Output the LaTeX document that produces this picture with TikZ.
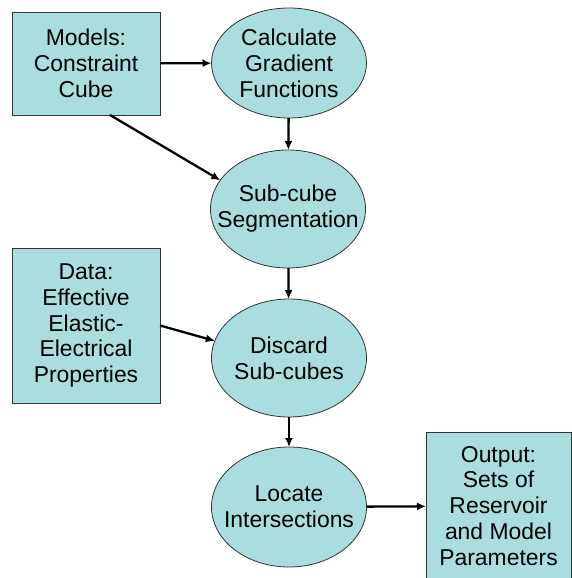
\documentclass[tikz,border=0pt]{standalone}
\usepackage{fontspec}
\setmainfont{Liberation Sans}
\usepackage{tikz}
\usetikzlibrary{positioning,arrows.meta,shapes.geometric}

\definecolor{paleteal}{RGB}{170,222,222}

\begin{document}
\begin{tikzpicture}[x=1bp,y=-1bp,
    every node/.style={inner sep=0,outer sep=0},
    txt/.style={align=center,font=\fontsize{23}{26}\selectfont},
    databox/.style={txt,draw=black!80,line width=0.8bp,fill=paleteal,minimum width=148bp},
    proc/.style={ellipse,draw=black!80,line width=0.8bp,fill=paleteal,minimum width=155bp,minimum height=118bp},
    flow/.style={line width=2.3bp,-{Latex[length=9bp,width=8bp]}}]

    \useasboundingbox (0,0) rectangle (572,578);

    % inputs on the left
    \node (models) [databox,minimum height=103bp] at (86,63.5) {Models:\\Constraint\\Cube};
    \node (data) [databox,minimum height=155bp] at (86,325.5) {Data:\\Effective\\Elastic-\\Electrical\\Properties};

    % processing chain
    \node (calc) [proc,minimum height=110bp,label={[txt]center:{Calculate\\Gradient\\Functions}}] at (289,63) {};
    \node (subcube) [proc,label={[txt]center:{Sub-cube\\Segmentation}}] at (288,209) {};
    \node (discard) [proc,label={[txt]center:{Discard\\Sub-cubes}}] at (289,358) {};
    \node (locate) [proc,minimum height=120bp,label={[txt]center:{Locate\\Intersections}}] at (289,507) {};

    % result, runs off the lower edge
    \node (output) [databox,minimum width=145bp,minimum height=148bp] at (498.5,506) {Output:\\Sets of\\Reservoir\\and Model\\Parameters};

    \draw[flow] (models) -- (calc);
    \draw[flow] (models.-65) -- (subcube.157);
    \draw[flow] (calc) -- (subcube);
    \draw[flow] (subcube) -- (discard);
    \draw[flow] (data.east) -- (discard.167);
    \draw[flow] (discard) -- (locate);
    \draw[flow] (locate) -- (output);

\end{tikzpicture}
\end{document}
